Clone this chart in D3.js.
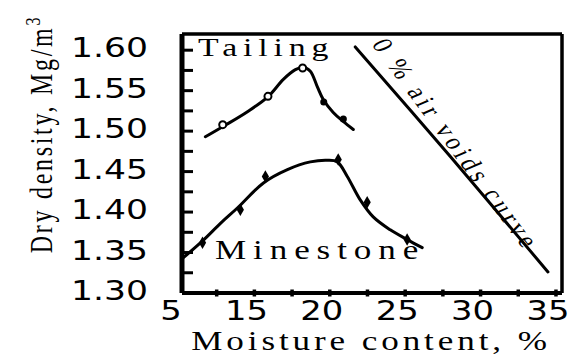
<!DOCTYPE html>
<html lang="en">
<head>
<meta charset="UTF-8">
<title>Compaction curves</title>
<script src="https://d3js.org/d3.v7.min.js"></script>
<style>
  body { margin: 0; background: #fff; }
  .curve { fill: none; stroke: #000; stroke-width: 3px; stroke-linejoin: round; stroke-linecap: round; }
  text { fill: #000; }
</style>
</head>
<body>
<svg id="chart"></svg>
<script>
// traced curves: [moisture %, dry density Mg/m3]
const tailingCurve = [[11.75,1.493],[12.95,1.506],[14.54,1.524],[15.93,1.543],[16.92,1.564],[17.72,1.576],[18.25,1.579],[18.71,1.574],[19.17,1.555],[19.57,1.539],[20.23,1.523],[20.89,1.512],[21.56,1.502]];
const tailingOpen = [[12.9,1.508],[15.9,1.543],[18.2,1.578]];
const tailingSolid = [[19.6,1.536],[20.9,1.515]];

const minestoneCurve = [[10.25,1.343],[11.6,1.365],[12.75,1.386],[13.87,1.405],[15.6,1.436],[17.19,1.4525],[18.71,1.462],[19.83,1.464],[20.5,1.462],[21.16,1.444],[22.02,1.415],[22.88,1.394],[24.01,1.378],[25.13,1.366],[26.13,1.356]];
const minestonePoints = [[11.56,1.362],[14.07,1.403],[15.73,1.444],[20.56,1.465],[22.48,1.412],[25.13,1.366]];

const airVoids = [[21.69,1.604],[27.98,1.469],[34.47,1.326]];

const yTickValues = [1.325,1.35,1.375,1.40,1.425,1.45,1.475,1.50,1.525,1.55,1.575,1.60];
const yLabelValues = [1.30,1.35,1.40,1.45,1.50,1.55,1.60];
const yLabels = ["1.30","1.35","1.40","1.45","1.50","1.55","1.60"];
const xTickValues = [12.5,15,17.5,20,22.5,25,27.5,30,32.5,35];
const xLabelValues = [10,15,20,25,30,35];
const xLabels = ["5","15","20","25","30","35"];

const W = 568, H = 363;
const svg = d3.select("#chart").attr("width", W).attr("height", H);

const x = d3.scaleLinear().domain([10.2, 35.4]).range([182, 562]);
const y = d3.scaleLinear().domain([1.30, 1.62]).range([293, 34]);

// scanned text is wide, so every label is stretched horizontally
function stretchText(x0, y0, str, o) {
    return svg.append("text")
        .attr("transform", "translate(" + x0 + "," + y0 + ") scale(" + (o.sx || 1.3) + ",1)" + (o.rot ? " rotate(" + o.rot + ")" : ""))
        .attr("font-family", o.family || "Liberation Serif")
        .attr("font-size", o.size)
        .attr("letter-spacing", o.ls || 0)
        .attr("text-anchor", o.anchor || "start")
        .text(str);
}

const line = d3.line()
    .x(d => x(d[0]))
    .y(d => y(d[1]))
    .curve(d3.curveCatmullRom);

// frame
const [x0, x1] = x.range();
const [y0, y1] = y.range();
svg.append("line").attr("x1", x0).attr("x2", x0).attr("y1", y1).attr("y2", y0).attr("stroke", "#000").attr("stroke-width", 5);
svg.append("line").attr("x1", x0).attr("x2", x1).attr("y1", y0).attr("y2", y0).attr("stroke", "#000").attr("stroke-width", 4);
svg.append("line").attr("x1", x0).attr("x2", x1).attr("y1", y1).attr("y2", y1).attr("stroke", "#000").attr("stroke-width", 3.5);
svg.append("line").attr("x1", x1).attr("x2", x1).attr("y1", y1).attr("y2", y0).attr("stroke", "#000").attr("stroke-width", 3.5);

// y ticks point inward
svg.selectAll(".ytick").data(yTickValues).enter().append("line")
    .attr("x1", x0).attr("x2", x0 + 11)
    .attr("y1", d => y(d)).attr("y2", d => y(d))
    .attr("stroke", "#000").attr("stroke-width", 3);

// x ticks are short dots across the bottom line
svg.selectAll(".xtick").data(xTickValues).enter().append("line")
    .attr("x1", d => x(d)).attr("x2", d => x(d))
    .attr("y1", y0 - 3.5).attr("y2", y0 + 3.5)
    .attr("stroke", "#000").attr("stroke-width", 3.5);

yLabelValues.forEach((v, i) => {
    stretchText(148, y(v) + 7, yLabels[i], { family: "DejaVu Sans", size: 26, sx: 1.33, anchor: "end" });
});
xLabelValues.forEach((v, i) => {
    stretchText(x(v) - 8, 320, xLabels[i], { family: "DejaVu Sans", size: 26, anchor: "middle" });
});

// axis titles
stretchText(371, 350, "Moisture content, %", { size: 27, ls: 3, anchor: "middle" });
const yt = stretchText(52, 134, "Dry density, Mg/m", { size: 24, ls: 2.7, anchor: "middle", rot: -90 });
yt.append("tspan").attr("dy", -9).attr("font-size", 16).text("3");

// curves
svg.append("path").datum(tailingCurve).attr("class", "curve").attr("d", line);
svg.append("path").datum(minestoneCurve).attr("class", "curve").attr("d", line);
svg.append("path").datum(airVoids).attr("class", "curve").attr("d", line);

// markers
svg.selectAll(".topen").data(tailingOpen).enter().append("circle")
    .attr("cx", d => x(d[0])).attr("cy", d => y(d[1])).attr("r", 3.5)
    .attr("fill", "#fff").attr("stroke", "#000").attr("stroke-width", 2);
svg.selectAll(".tsolid").data(tailingSolid).enter().append("circle")
    .attr("cx", d => x(d[0])).attr("cy", d => y(d[1])).attr("r", 3.5)
    .attr("fill", "#000");
svg.selectAll(".mpt").data(minestonePoints).enter().append("path")
    .attr("transform", d => "translate(" + x(d[0]) + "," + y(d[1]) + ")")
    .attr("d", d3.symbol(d3.symbolDiamond, 45))
    .attr("fill", "#000");

// curve labels
stretchText(198, 56, "Tailing", { size: 26, ls: 4.5 });
stretchText(215, 259, "Minestone", { size: 27, ls: 5.3 });
stretchText(371, 44, "0 % air voids curve", { size: 22, ls: 3.6, rot: 60.3 });
</script>
</body>
</html>
